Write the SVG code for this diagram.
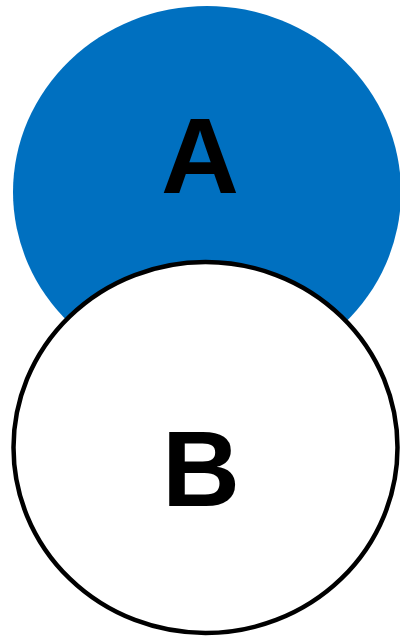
<svg xmlns="http://www.w3.org/2000/svg" width="400" height="637" viewBox="0 0 400 637">
<style>
.lbl{font-family:"Liberation Sans",Arial,sans-serif;font-weight:bold;font-size:108px;fill:#000;text-anchor:middle}
</style>
<rect width="400" height="637" fill="#fff"/>
<g id="nodeA">
<ellipse cx="207" cy="192" rx="194" ry="186" fill="#0070C0"/>
<text class="lbl" x="200" y="193">A</text>
</g>
<g id="nodeB">
<ellipse cx="205.5" cy="447.5" rx="192" ry="185.5" fill="#fff" stroke="#000" stroke-width="4.5"/>
<text class="lbl" x="201" y="506">B</text>
</g>
<g id="connectors"></g>
</svg>
